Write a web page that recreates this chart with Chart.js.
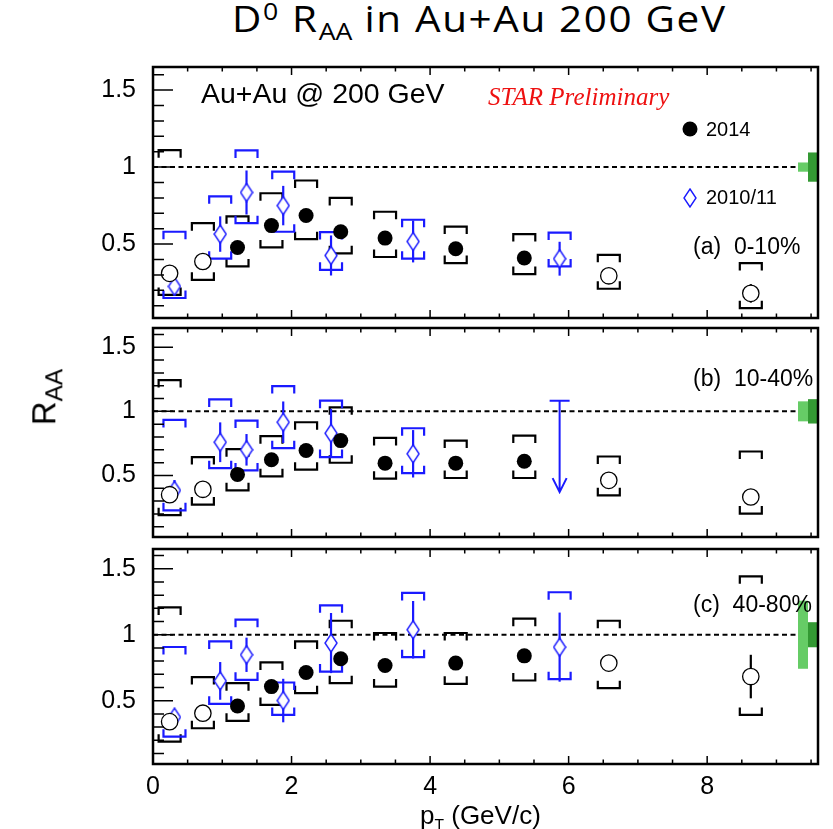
<!DOCTYPE html>
<html>
<head>
<meta charset="utf-8">
<script src="https://cdn.jsdelivr.net/npm/chart.js@4.4.1/dist/chart.umd.min.js"></script>
<style>
  html, body { margin: 0; padding: 0; background: #fff; }
  #wrap { position: relative; width: 833px; height: 829px; overflow: hidden; }
  canvas { position: absolute; left: 0; }
  .txt { position: absolute; white-space: nowrap; color: #000; line-height: 1; }
  #titulo { left: 232px; top: -8px; font: 37px "Open Sans", Lato, sans-serif; letter-spacing: 1.5px;
            transform-origin: 0 0; }
  #titulo sub { font-size: 0.66em; vertical-align: -0.32em; letter-spacing: 0; }
  #titulo sup { font-size: 0.66em; vertical-align: 0.5em; }
  #eixoY { left: 47px; top: 397px; font: 33px "Liberation Sans", Arial, sans-serif;
           transform: translate(-50%, -50%) rotate(-90deg); }
  #eixoY sub { font-size: 0.74em; vertical-align: -0.3em; }
  #eixoX { left: 420px; top: 800px; font: 26px "Liberation Sans", Arial, sans-serif; }
  #eixoX sub { font-size: 0.6em; vertical-align: -0.45em; }
</style>
</head>
<body>
<div id="wrap">
  <div id="titulo" class="txt">D<sup>0</sup> R<sub>AA</sub> in Au+Au 200 GeV</div>
  <canvas id="painelA"></canvas>
  <canvas id="painelB"></canvas>
  <canvas id="painelC"></canvas>
  <div id="eixoY" class="txt">R<sub>AA</sub></div>
  <div id="eixoX" class="txt">p<sub>T</sub> (GeV/c)</div>
</div>
<script>
// pT dos bins (GeV/c)
const pt2014 = [0.24, 0.72, 1.22, 1.71, 2.21, 2.71, 3.35, 4.37, 5.36, 6.58, 8.63];
const pt2010 = [0.31, 0.97, 1.35, 1.88, 2.57, 3.755, 5.87];

// rótulos dos eixos
const xTickLabels = [0, 2, 4, 6, 8];
const yTickLabels = [0.5, 1, 1.5];

// (a) 0-10%
const raa2014_0_10   = [0.31, 0.387, 0.478, 0.62, 0.686, 0.58, 0.539, 0.47, 0.41, 0.294, 0.18];
const stat2014_0_10  = [0.05, 0.04, 0.04, 0.04, 0.04, 0.04, 0.04, 0.04, 0.04, 0.05, 0.06];
const sysHi2014_0_10 = [1.11, 0.636, 0.68, 0.83, 0.913, 0.8, 0.71, 0.614, 0.565, 0.43, 0.377];
const sysLo2014_0_10 = [0.17, 0.268, 0.355, 0.478, 0.532, 0.44, 0.416, 0.377, 0.305, 0.21, 0.084];
const raa2010_0_10   = [0.225, 0.565, 0.835, 0.75, 0.426, 0.517, 0.405];
const stat2010_0_10  = [0.06, 0.115, 0.143, 0.128, 0.13, 0.136, 0.11];
const sysHi2010_0_10 = [0.58, 0.81, 1.108, 0.97, 0.578, 0.658, 0.575];
const sysLo2010_0_10 = [0.15, 0.405, 0.636, 0.58, 0.333, 0.405, 0.355];

// (b) 10-40%
const raa2014_10_40   = [0.35, 0.392, 0.508, 0.622, 0.695, 0.772, 0.596, 0.596, 0.611, 0.462, 0.332];
const stat2014_10_40  = [0.04, 0.04, 0.04, 0.04, 0.04, 0.04, 0.04, 0.04, 0.04, 0.05, 0.06];
const sysHi2014_10_40 = [1.244, 0.643, 0.705, 0.806, 0.915, 1.031, 0.793, 0.772, 0.811, 0.648, 0.687];
const sysLo2014_10_40 = [0.19, 0.273, 0.384, 0.493, 0.545, 0.599, 0.475, 0.48, 0.48, 0.345, 0.203];
const raa2010_10_40   = [0.384, 0.759, 0.70, 0.915, 0.829, 0.669];
const stat2010_10_40  = [0.08, 0.155, 0.123, 0.162, 0.19, 0.185];
const sysHi2010_10_40 = [0.933, 1.093, 0.928, 1.197, 1.083, 0.868];
const sysLo2010_10_40 = [0.228, 0.557, 0.539, 0.713, 0.643, 0.518];
// limite superior no último bin de 2010/11: [pT, limite, ponta da seta]
const limite2010_10_40 = [5.87, 1.083, 0.37];

// (c) 40-80%
const raa2014_40_80   = [0.341, 0.405, 0.46, 0.607, 0.714, 0.818, 0.767, 0.785, 0.84, 0.785, 0.683];
const stat2014_40_80  = [0.04, 0.04, 0.04, 0.04, 0.04, 0.05, 0.05, 0.05, 0.05, 0.06, 0.165];
const sysHi2014_40_80 = [1.207, 0.679, 0.633, 0.79, 0.949, 1.106, 1.013, 1.013, 1.122, 1.106, 1.443];
const sysLo2014_40_80 = [0.189, 0.291, 0.347, 0.468, 0.557, 0.633, 0.607, 0.628, 0.653, 0.595, 0.392];
const raa2010_40_80   = [0.375, 0.65, 0.848, 0.501, 0.937, 1.038, 0.906];
const stat2010_40_80  = [0.05, 0.143, 0.13, 0.165, 0.228, 0.218, 0.262];
const sysHi2010_40_80 = [0.907, 0.949, 1.114, 0.638, 1.223, 1.317, 1.322];
const sysLo2010_40_80 = [0.227, 0.476, 0.658, 0.392, 0.721, 0.83, 0.663];

// incertezas de normalização (caixas verdes em R_AA = 1)
const normNcoll = [0.03, 0.078, 0.258];
const normPP    = [0.095, 0.095, 0.095];

// bins de 2014 desenhados com círculo aberto
const abertos = [0, 1, 9, 10];

const FONTE = '"Liberation Sans", Arial, sans-serif';
const AZUL = '#1a1aff';

// marcador losango (mais alto que largo)
const losango = document.createElement('canvas');
losango.width = 14; losango.height = 20;
(function () {
    const c = losango.getContext('2d');
    c.beginPath();
    c.moveTo(7, 1); c.lineTo(13, 10); c.lineTo(7, 19); c.lineTo(1, 10); c.closePath();
    c.fillStyle = '#fff'; c.fill();
    c.lineWidth = 1.4; c.strokeStyle = AZUL; c.stroke();
})();

function colchete(ctx, px, py, dir) {
    // dir = 1 colchete superior (pernas para baixo), -1 inferior
    ctx.beginPath();
    ctx.moveTo(px - 11, py + dir * 7.5);
    ctx.lineTo(px - 11, py);
    ctx.lineTo(px + 11, py);
    ctx.lineTo(px + 11, py + dir * 7.5);
    ctx.stroke();
}

// zera o espaço extra que o Chart.js reserva para os rótulos nas pontas
function semPadding(s) {
    s.paddingTop = 0; s.paddingBottom = 0; s.paddingLeft = 0; s.paddingRight = 0;
}

// Plugin que desenha barras de erro, colchetes, moldura, marcas e textos
const decoracao = {
    id: 'decoracao',
    beforeDatasetsDraw(chart) {
        const p = chart.options.plugins.decoracao;
        const ctx = chart.ctx, xs = chart.scales.x, ys = chart.scales.y, a = chart.chartArea;
        ctx.save();
        // linha tracejada em 1
        ctx.strokeStyle = '#000'; ctx.lineWidth = 2; ctx.setLineDash([5, 3.5]);
        ctx.beginPath();
        ctx.moveTo(a.left, ys.getPixelForValue(1));
        ctx.lineTo(a.right, ys.getPixelForValue(1));
        ctx.stroke();
        ctx.setLineDash([]);

        const series = [
            { x: pt2014, y: p.raa14, st: p.stat14, hi: p.hi14, lo: p.lo14, cor: '#000' },
            { x: pt2010, y: p.raa10, st: p.stat10, hi: p.hi10, lo: p.lo10, cor: AZUL }
        ];
        series.forEach(s => {
            ctx.strokeStyle = s.cor;
            ctx.lineWidth = 2.2;
            s.y.forEach((v, i) => {
                const px = xs.getPixelForValue(s.x[i]);
                ctx.beginPath();
                ctx.moveTo(px, ys.getPixelForValue(v - s.st[i]));
                ctx.lineTo(px, ys.getPixelForValue(v + s.st[i]));
                ctx.stroke();
                colchete(ctx, px, ys.getPixelForValue(s.hi[i]), 1);
                colchete(ctx, px, ys.getPixelForValue(s.lo[i]), -1);
            });
        });

        // seta de limite superior
        if (p.limite) {
            const px = xs.getPixelForValue(p.limite[0]);
            const yt = ys.getPixelForValue(p.limite[1]);
            const yb = ys.getPixelForValue(p.limite[2]);
            ctx.strokeStyle = AZUL; ctx.lineWidth = 2;
            ctx.beginPath();
            ctx.moveTo(px - 10, yt); ctx.lineTo(px + 10, yt);
            ctx.moveTo(px, yt); ctx.lineTo(px, yb);
            ctx.moveTo(px - 7, yb - 14); ctx.lineTo(px, yb); ctx.lineTo(px + 7, yb - 14);
            ctx.stroke();
        }
        ctx.restore();
    },
    afterDatasetsDraw(chart) {
        const p = chart.options.plugins.decoracao;
        const ctx = chart.ctx, xs = chart.scales.x, ys = chart.scales.y, a = chart.chartArea;
        const topo = chart.canvas.offsetTop;
        ctx.save();

        // caixas de normalização
        const y1 = ys.getPixelForValue(1);
        ctx.fillStyle = '#66cc66';
        const hN = ys.getPixelForValue(1 - p.nNcoll) - y1;
        ctx.fillRect(a.right - 20, y1 - hN, 10, 2 * hN);
        ctx.fillStyle = '#339933';
        const hP = ys.getPixelForValue(1 - p.nPP) - y1;
        ctx.fillRect(a.right - 10, y1 - hP, 10, 2 * hP);

        // marcas dos eixos (para dentro)
        ctx.strokeStyle = '#000'; ctx.lineWidth = 1.5;
        ctx.beginPath();
        for (let k = 1; k <= 16; k++) {
            const v = k / 10;
            const py = ys.getPixelForValue(v);
            const len = (k % 5 === 0) ? 20 : 11;
            ctx.moveTo(a.left, py); ctx.lineTo(a.left + len, py);
        }
        for (let k = 1; k <= 19; k++) {
            const v = k / 2;
            const px = xs.getPixelForValue(v);
            const len = (k % 4 === 0) ? 8 : 4.5;
            ctx.moveTo(px, a.bottom); ctx.lineTo(px, a.bottom - len);
            ctx.moveTo(px, a.top); ctx.lineTo(px, a.top + len);
        }
        ctx.stroke();

        // moldura
        ctx.lineWidth = 2.5;
        ctx.strokeRect(a.left, a.top, a.right - a.left, a.bottom - a.top);

        // rótulo da centralidade
        ctx.fillStyle = '#000';
        ctx.textBaseline = 'middle';
        ctx.font = '23px ' + FONTE;
        ctx.fillText(p.rotulo, 693, p.rotuloY - topo);

        if (p.legenda) {
            ctx.font = '28.5px ' + FONTE;
            ctx.fillText('Au+Au @ 200 GeV', 201, 95 - topo);
            ctx.fillStyle = '#ee1111';
            ctx.font = 'italic 25px "Liberation Serif", "Times New Roman", serif';
            ctx.textBaseline = 'alphabetic';
            ctx.fillText('STAR Preliminary', 488, 105 - topo);

            // legenda
            ctx.fillStyle = '#000';
            ctx.beginPath();
            ctx.arc(690, 129 - topo, 7.5, 0, Math.PI * 2);
            ctx.fill();
            ctx.drawImage(losango, 690 - 7, 198 - topo - 10);
            ctx.textBaseline = 'middle';
            ctx.font = '20px ' + FONTE;
            ctx.fillText('2014', 706, 130 - topo);
            ctx.fillText('2010/11', 706, 198 - topo);
        }
        ctx.restore();
    }
};

function pontos(xv, yv, filtro) {
    const out = [];
    yv.forEach((v, i) => { if (filtro(i)) out.push({ x: xv[i], y: v }); });
    return out;
}

function gerarPainel(id, molduraTopo, molduraBase, d, mostrarX) {
    const canvas = document.getElementById(id);
    const padTopo = 12;
    const padBase = mostrarX ? 0 : 10;
    const alturaX = mostrarX ? 60 : 0;
    canvas.width = 833;
    canvas.height = molduraBase - molduraTopo + padTopo + padBase + alturaX;
    canvas.style.top = (molduraTopo - padTopo) + 'px';

    return new Chart(canvas, {
        type: 'scatter',
        data: {
            datasets: [
                {
                    data: pontos(pt2014, d.raa14, i => !abertos.includes(i)),
                    pointStyle: 'circle', pointRadius: 7.5,
                    backgroundColor: '#000', borderColor: '#000', borderWidth: 0
                },
                {
                    data: pontos(pt2014, d.raa14, i => abertos.includes(i)),
                    pointStyle: 'circle', pointRadius: 8.2,
                    backgroundColor: '#fff', borderColor: '#000', borderWidth: 1.3
                },
                {
                    data: pontos(pt2010, d.raa10, () => true),
                    pointStyle: losango
                }
            ]
        },
        options: {
            responsive: false,
            animation: false,
            devicePixelRatio: 1,
            layout: { padding: { left: 0, right: 15, top: padTopo, bottom: padBase } },
            plugins: {
                legend: { display: false },
                tooltip: { enabled: false },
                decoracao: d
            },
            scales: {
                x: {
                    type: 'linear', min: 0, max: 9.6, display: mostrarX,
                    grid: { display: false, drawTicks: false },
                    border: { display: false },
                    afterBuildTicks: s => { s.ticks = xTickLabels.map(v => ({ value: v })); },
                    afterFit: s => { s.height = alturaX; semPadding(s); },
                    ticks: { font: { size: 25, family: FONTE }, color: '#000', padding: 8,
                             maxRotation: 0, autoSkip: false }
                },
                y: {
                    type: 'linear', min: 0.02, max: 1.65,
                    grid: { display: false, drawTicks: false },
                    border: { display: false },
                    afterBuildTicks: s => { s.ticks = yTickLabels.map(v => ({ value: v })); },
                    afterFit: s => { s.width = 153; semPadding(s); },
                    ticks: { font: { size: 25, family: FONTE }, color: '#000', padding: 17,
                             autoSkip: false, callback: v => String(v) }
                }
            }
        },
        plugins: [decoracao]
    });
}

gerarPainel('painelA', 67, 318, {
    raa14: raa2014_0_10, stat14: stat2014_0_10, hi14: sysHi2014_0_10, lo14: sysLo2014_0_10,
    raa10: raa2010_0_10, stat10: stat2010_0_10, hi10: sysHi2010_0_10, lo10: sysLo2010_0_10,
    nNcoll: normNcoll[0], nPP: normPP[0], rotulo: '(a)  0-10%', rotuloY: 248, legenda: true
}, false);

gerarPainel('painelB', 328, 537, {
    raa14: raa2014_10_40, stat14: stat2014_10_40, hi14: sysHi2014_10_40, lo14: sysLo2014_10_40,
    raa10: raa2010_10_40, stat10: stat2010_10_40, hi10: sysHi2010_10_40, lo10: sysLo2010_10_40,
    limite: limite2010_10_40,
    nNcoll: normNcoll[1], nPP: normPP[1], rotulo: '(b)  10-40%', rotuloY: 380
}, false);

gerarPainel('painelC', 549, 764, {
    raa14: raa2014_40_80, stat14: stat2014_40_80, hi14: sysHi2014_40_80, lo14: sysLo2014_40_80,
    raa10: raa2010_40_80, stat10: stat2010_40_80, hi10: sysHi2010_40_80, lo10: sysLo2010_40_80,
    nNcoll: normNcoll[2], nPP: normPP[2], rotulo: '(c)  40-80%', rotuloY: 606
}, true);

// título ocupa de 232 a 727 px
function ajustarTitulo() {
    const t = document.getElementById('titulo');
    t.style.transform = 'none';
    t.style.transform = 'scaleX(' + (495 / t.offsetWidth) + ')';
}
ajustarTitulo();
if (document.fonts) document.fonts.ready.then(ajustarTitulo);
</script>
</body>
</html>
